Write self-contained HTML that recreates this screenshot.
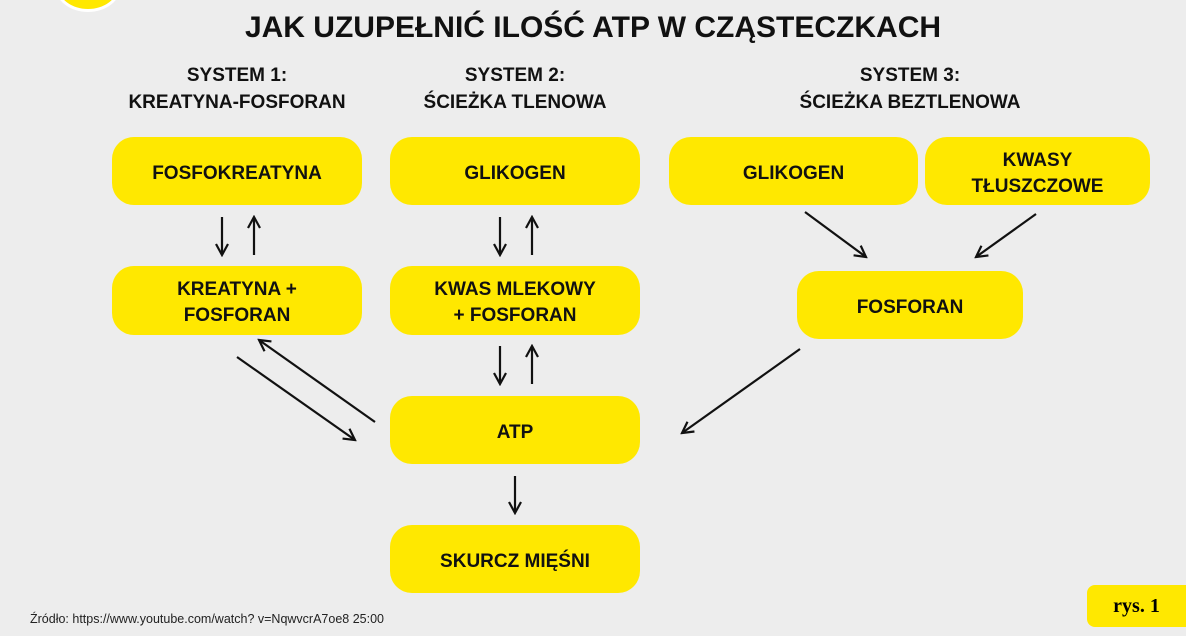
<!DOCTYPE html>
<html><head><meta charset="utf-8"><style>
body{margin:0;width:1186px;height:636px;background:#ededed;position:relative;overflow:hidden;font-family:"Liberation Sans",sans-serif;}
.b{position:absolute;background:#ffe800;border-radius:22px;display:flex;align-items:center;justify-content:center;text-align:center;font-weight:bold;font-size:19px;line-height:26px;color:#111;box-sizing:border-box;padding-top:5px;}
.h{position:absolute;text-align:center;font-weight:bold;font-size:19px;line-height:27px;color:#111;}
</style></head><body>
<div style="position:absolute;left:55px;top:-40px;width:60px;height:46px;border-radius:50%;background:#ffe800;border:3px solid #fff"></div>
<div class="h" style="left:0;width:1186px;top:10px;font-size:30px;line-height:36px">JAK UZUPEŁNIĆ ILOŚĆ ATP W CZĄSTECZKACH</div>
<div class="h" style="left:112px;width:250px;top:62px">SYSTEM 1:<br>KREATYNA-FOSFORAN</div>
<div class="h" style="left:390px;width:250px;top:62px">SYSTEM 2:<br>ŚCIEŻKA TLENOWA</div>
<div class="h" style="left:770px;width:280px;top:62px">SYSTEM 3:<br>ŚCIEŻKA BEZTLENOWA</div>
<div class="b" style="left:112px;top:137px;width:250px;height:68px">FOSFOKREATYNA</div>
<div class="b" style="left:112px;top:266px;width:250px;height:69px">KREATYNA +<br>FOSFORAN</div>
<div class="b" style="left:390px;top:137px;width:250px;height:68px">GLIKOGEN</div>
<div class="b" style="left:390px;top:266px;width:250px;height:69px">KWAS MLEKOWY<br>+ FOSFORAN</div>
<div class="b" style="left:390px;top:396px;width:250px;height:68px">ATP</div>
<div class="b" style="left:390px;top:525px;width:250px;height:68px">SKURCZ MIĘŚNI</div>
<div class="b" style="left:669px;top:137px;width:249px;height:68px">GLIKOGEN</div>
<div class="b" style="left:925px;top:137px;width:225px;height:68px">KWASY<br>TŁUSZCZOWE</div>
<div class="b" style="left:797px;top:271px;width:226px;height:68px">FOSFORAN</div>
<svg style="position:absolute;left:0;top:0" width="1186" height="636" fill="none" stroke="#111" stroke-width="2.2">
<defs><marker id="a" markerWidth="14" markerHeight="14" refX="12" refY="7" orient="auto" markerUnits="userSpaceOnUse"><path d="M1,1 L12,7 L1,13" fill="none" stroke="#111" stroke-width="2.2"/></marker></defs>
<g marker-end="url(#a)">
<line x1="222" y1="217" x2="222" y2="255"/><line x1="254" y1="255" x2="254" y2="217"/>
<line x1="500" y1="217" x2="500" y2="255"/><line x1="532" y1="255" x2="532" y2="217"/>
<line x1="500" y1="346" x2="500" y2="384"/><line x1="532" y1="384" x2="532" y2="346"/>
<line x1="515" y1="476" x2="515" y2="513"/>
<line x1="237" y1="357" x2="355" y2="440"/><line x1="375" y1="422" x2="259" y2="340"/>
<line x1="805" y1="212" x2="866" y2="257"/><line x1="1036" y1="214" x2="976" y2="257"/>
<line x1="800" y1="349" x2="682" y2="433"/>
</g></svg>
<div style="position:absolute;left:30px;top:612px;font-size:12.5px;color:#222">Źródło: https://www.youtube.com/watch? v=NqwvcrA7oe8 25:00</div>
<div style="position:absolute;left:1087px;top:585px;width:99px;height:42px;background:#ffe800;border-radius:8px 0 0 8px;display:flex;align-items:center;justify-content:center;font-family:'Liberation Serif',serif;font-weight:bold;font-size:20px">rys. 1</div>
</body></html>
